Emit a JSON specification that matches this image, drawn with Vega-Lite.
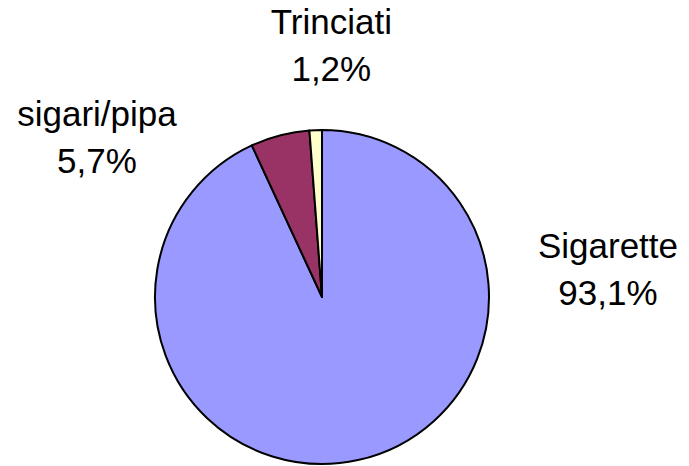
{
  "$schema": "https://vega.github.io/schema/vega-lite/v6.json",
  "width": 644,
  "height": 338,
  "autosize": "none",
  "padding": {"top": 128, "left": 0, "right": 45, "bottom": 0},
  "background": "white",
  "config": {"view": {"stroke": null}},
  "layer": [
    {
      "data": {"values": [
        {"categoria": "Sigarette", "quota": 93.1, "ord": 1},
        {"categoria": "sigari/pipa", "quota": 5.7, "ord": 2},
        {"categoria": "Trinciati", "quota": 1.2, "ord": 3}
      ]},
      "mark": {"type": "arc", "outerRadius": 167, "stroke": "black", "strokeWidth": 2, "strokeJoin": "round"},
      "encoding": {
        "theta": {"field": "quota", "type": "quantitative", "stack": true},
        "order": {"field": "ord", "type": "quantitative"},
        "color": {
          "field": "categoria", "type": "nominal",
          "scale": {"domain": ["Sigarette", "sigari/pipa", "Trinciati"], "range": ["#9999FF", "#993366", "#FFFFCC"]},
          "legend": null
        }
      }
    },
    {
      "data": {"values": [
        {"etichetta": "Sigarette\n93,1%", "angolo": 80.18, "distanza": 1.738},
        {"etichetta": "sigari/pipa\n5,7%", "angolo": 309.04, "distanza": 1.735},
        {"etichetta": "Trinciati\n1,2%", "angolo": 1.95, "distanza": 1.639}
      ]},
      "mark": {"type": "text", "font": "Liberation Sans", "fontSize": 35, "lineBreak": "\n", "lineHeight": 47, "align": "center", "baseline": "middle", "color": "black"},
      "encoding": {
        "theta": {"field": "angolo", "type": "quantitative", "scale": {"domain": [0, 360], "range": [0, 6.283185307]}},
        "radius": {"field": "distanza", "type": "quantitative", "scale": {"type": "linear", "domain": [0, 1], "range": [0, 167], "zero": true}},
        "text": {"field": "etichetta", "type": "nominal"}
      }
    }
  ],
  "resolve": {"scale": {"theta": "independent", "radius": "independent"}}
}
